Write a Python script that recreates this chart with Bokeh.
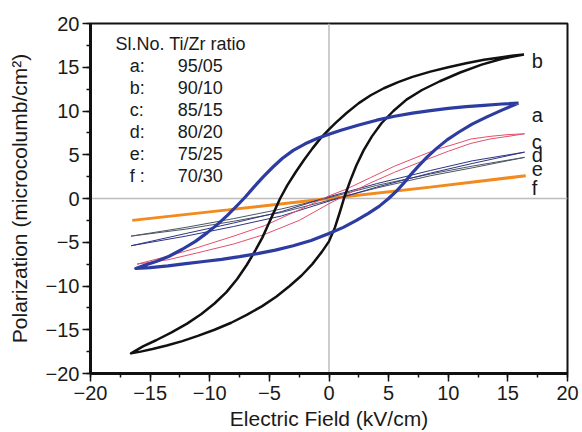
from bokeh.plotting import figure
from bokeh.models import Range1d, SingleIntervalTicker, Span, ColumnDataSource
from bokeh.core.properties import value
from bokeh.embed import file_html
from bokeh.resources import INLINE

# ---- data (E in kV/cm, P in microcolumb/cm^2) ----
# b: 90/10 (black loop)  upper branch (field decreasing) then lower branch (field increasing)
b_x = [16.35, 15.5, 14.5, 13.0, 11.5, 10.0, 8.5, 7.0, 5.8, 4.6, 3.5, 2.5, 1.5, 0.6, 0.0, -0.7,
       -1.4, -2.1, -2.8, -3.5, -4.1, -4.6, -5.1, -5.6, -6.2, -6.9, -7.7, -8.6, -9.6, -10.7,
       -11.9, -13.2, -14.5, -15.6, -16.6,
       -15.8, -14.8, -13.6, -12.3, -11.0, -9.6, -8.2, -6.9, -5.6, -4.4, -3.3, -2.3, -1.4, -0.6,
       0.0, 0.5, 0.9, 1.3, 1.8, 2.3, 2.9, 3.6, 4.4, 5.4, 6.5, 7.8, 9.3, 11.0, 12.8, 14.6, 16.35]
b_y = [16.45, 16.35, 16.15, 15.85, 15.45, 15.0, 14.5, 13.9, 13.3, 12.6, 11.8, 10.9, 9.8, 8.7,
       7.9, 6.9, 5.7, 4.4, 3.0, 1.5, 0.0, -1.5, -3.0, -4.5, -6.0, -7.6, -9.2, -10.7, -12.0,
       -13.2, -14.3, -15.3, -16.2, -16.9, -17.7,
       -17.5, -17.2, -16.8, -16.3, -15.7, -15.0, -14.2, -13.3, -12.3, -11.2, -10.0, -8.8, -7.5,
       -6.1, -4.9, -3.3, -1.6, 0.2, 2.1, 3.8, 5.5, 7.1, 8.6, 10.0, 11.3, 12.4, 13.4, 14.4, 15.3,
       16.0, 16.45]

# a: 95/05 (blue loop)
a_x = [15.9, 14.5, 13.0, 11.5, 10.0, 8.5, 7.0, 5.5, 4.0, 2.5, 1.0, 0.0, -1.0, -2.0, -3.0, -3.9,
       -4.7, -5.5, -6.3, -7.0, -7.7, -8.5, -9.3, -10.2, -11.2, -12.3, -13.4, -14.5, -15.4, -16.2,
       -15.0, -13.5, -12.0, -10.5, -9.0, -7.5, -6.0, -4.5, -3.0, -1.5, 0.0, 1.2, 2.3, 3.3, 4.2,
       5.0, 5.7, 6.3, 6.9, 7.5, 8.2, 9.0, 9.9, 10.9, 12.0, 13.2, 14.5, 15.9]
a_y = [10.9, 10.8, 10.65, 10.5, 10.3, 10.05, 9.75, 9.4, 8.95, 8.4, 7.8, 7.35, 6.85, 6.25, 5.5,
       4.6, 3.6, 2.5, 1.3, 0.2, -0.8, -1.9, -2.9, -3.9, -4.9, -5.8, -6.6, -7.2, -7.6, -8.0,
       -7.9, -7.7, -7.45, -7.2, -6.95, -6.65, -6.3, -5.9, -5.4, -4.8, -4.0, -3.3, -2.5, -1.7,
       -0.9, 0.0, 0.9, 1.8, 2.8, 3.7, 4.7, 5.7, 6.7, 7.6, 8.5, 9.3, 10.1, 10.9]

# c: 85/15 (red loop)
c_x = [16.4, 15.0, 13.5, 11.9, 10.5, 9.0, 7.7, 5.5, 3.5, 1.5, 0.0, -2.5, -5.4, -8.0, -11.0,
       -13.5, -16.1,
       -13.5, -11.0, -8.0, -5.4, -2.5, 0.0, 2.0, 3.5, 5.5, 7.7, 10.0, 11.9, 13.5, 15.0, 16.4]
c_y = [7.4, 7.3, 7.1, 6.8, 6.2, 5.6, 4.9, 3.7, 2.4, 1.1, 0.3, -1.3, -3.1, -4.3, -5.6,
       -6.6, -7.5,
       -7.0, -6.2, -5.2, -4.1, -2.5, -0.6, 0.8, 1.8, 3.0, 4.2, 5.4, 6.3, 6.8, 7.1, 7.4]

# d: 80/20 (navy loop)
d_x = [16.4, 12.0, 8.5, 4.0, 0.0, -4.0, -8.0, -12.0, -16.6, -12.0, -8.0, -4.0, 0.0, 4.0, 8.5, 12.0, 16.4]
d_y = [5.3, 4.3, 3.2, 1.7, 0.2, -1.5, -2.8, -4.0, -5.4, -4.3, -3.2, -2.0, -0.3, 1.3, 2.9, 4.0, 5.3]

# e: 75/25 (grey loop)
e_x = [16.4, 12.0, 8.5, 4.0, 0.0, -4.0, -8.0, -12.0, -16.6, -12.0, -8.0, -4.0, 0.0, 4.0, 8.5, 12.0, 16.4]
e_y = [4.7, 3.7, 2.8, 1.5, 0.1, -1.2, -2.3, -3.3, -4.3, -3.5, -2.6, -1.6, -0.2, 1.2, 2.6, 3.5, 4.7]

# f: 70/30 (orange, almost linear)
f_x = [-16.5, -8.5, 0.0, 8.5, 16.5]
f_y = [-2.5, -1.3, 0.0, 1.3, 2.6]

# legend table
legend_header = "Sl.No. Ti/Zr ratio"
sample_ids = ["a:", "b:", "c:", "d:", "e:", "f :"]
ratios = ["95/05", "90/10", "85/15", "80/20", "75/25", "70/30"]
legend_rows_y = [15.2, 12.65, 10.1, 7.6, 5.1, 2.6]

# curve end labels
end_labels = ["b", "a", "c", "d", "e", "f"]
end_labels_x = [17.0, 17.0, 17.0, 17.0, 17.0, 17.0]
end_labels_y = [15.7, 9.5, 6.5, 5.0, 3.4, 1.2]

FONT = "Liberation Sans"

p = figure(width=582, height=432, output_backend="svg", toolbar_location=None,
           x_range=Range1d(-20, 20), y_range=Range1d(-20, 20),
           min_border_left=90, min_border_right=15, min_border_top=23, min_border_bottom=59,
           background_fill_color="white", border_fill_color="white")

p.xgrid.visible = False
p.ygrid.visible = False
p.outline_line_color = "#111111"
p.outline_line_width = 2

for ax in (p.xaxis[0], p.yaxis[0]):
    ax.ticker = SingleIntervalTicker(interval=5, num_minor_ticks=2)
    ax.axis_line_width = 3
    ax.axis_line_color = "#111111"
    ax.major_tick_out = 8
    ax.major_tick_in = 0
    ax.minor_tick_out = 4
    ax.minor_tick_in = 0
    ax.major_tick_line_width = 1.5
    ax.minor_tick_line_width = 1.5
    ax.major_tick_line_color = "#111111"
    ax.minor_tick_line_color = "#111111"
    ax.major_label_text_font = FONT
    ax.major_label_text_font_size = "20px"
    ax.major_label_text_color = "#1a1a1a"
    ax.axis_label_text_font = FONT
    ax.axis_label_text_font_size = "21px"
    ax.axis_label_text_font_style = "normal"
    ax.axis_label_text_color = "#1a1a1a"

p.xaxis.axis_label = "Electric Field (kV/cm)"
p.yaxis.axis_label = "Polarization (microcolumb/cm²)"
p.xaxis.major_label_standoff = 4
p.xaxis.axis_label_standoff = 4
p.yaxis.major_label_standoff = 3
p.yaxis.axis_label_standoff = 12

p.add_layout(Span(location=0, dimension="height", line_color="#BDBDBD", line_width=1.5, level="underlay"))
p.add_layout(Span(location=0, dimension="width", line_color="#BDBDBD", line_width=1.5, level="underlay"))

p.line(f_x, f_y, line_color="#F28A1E", line_width=3)
p.line(e_x, e_y, line_color="#4C5660", line_width=1)
p.line(d_x, d_y, line_color="#2E3483", line_width=1)
p.line(c_x, c_y, line_color="#E2506B", line_width=1)
p.line(b_x, b_y, line_color="#111111", line_width=2.5, line_join="round")
p.line(a_x, a_y, line_color="#2C3CA0", line_width=3.2, line_join="round")

# legend table text
hdr = ColumnDataSource(dict(x=[-17.9], y=[17.7], t=[legend_header]))
p.text(x="x", y="y", text="t", source=hdr, text_font=value(FONT), text_font_size=value("18px"),
       text_color="#1a1a1a", text_baseline="alphabetic", text_align="left")
ids = ColumnDataSource(dict(x=[-16.7] * len(sample_ids), y=legend_rows_y, t=sample_ids))
p.text(x="x", y="y", text="t", source=ids, text_font=value(FONT), text_font_size=value("18px"),
       text_color="#1a1a1a", text_baseline="alphabetic", text_align="left")
rts = ColumnDataSource(dict(x=[-8.9] * len(ratios), y=legend_rows_y, t=ratios))
p.text(x="x", y="y", text="t", source=rts, text_font=value(FONT), text_font_size=value("18px"),
       text_color="#1a1a1a", text_baseline="alphabetic", text_align="right")

ends = ColumnDataSource(dict(x=end_labels_x, y=end_labels_y, t=end_labels))
p.text(x="x", y="y", text="t", source=ends, text_font=value(FONT), text_font_size=value("20px"),
       text_color="#1a1a1a", text_baseline="alphabetic", text_align="left")

open("out.html", "w").write(file_html(p, INLINE))
